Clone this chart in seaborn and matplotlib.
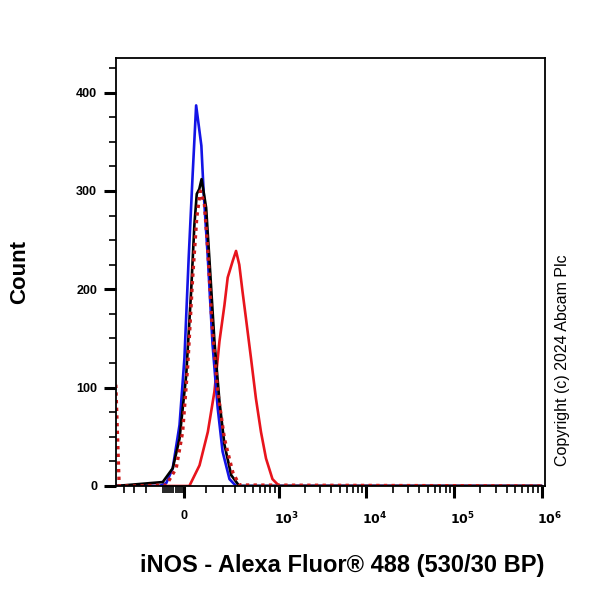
import numpy as np
import pandas as pd
import matplotlib
matplotlib.use('Agg')
import matplotlib.pyplot as plt
import matplotlib.transforms as mtransforms
import seaborn as sns

# fluorescence (biex axis units) and counts
blue_x = [-500, -119, -84, -53, -22, 0, 19, 37, 53, 78, 89, 111, 137, 168, 200, 251, 307, 1e6]
blue_y = [0, 0, 3, 18, 62, 130, 232, 317, 387, 346, 300, 232, 144, 79, 35, 7, 0, 0]

black_x = [-500, -102, -53, -22, 8, 30, 45, 56, 68, 79, 102, 119, 148, 179, 213, 265, 338, 1e6]
black_y = [0, 4, 18, 48, 113, 198, 266, 297, 302, 312, 283, 232, 147, 86, 42, 11, 0, 0]

dot_x = [-500, -455, -300, -84, -37, -8, 15, 37, 56, 73, 93, 111, 134, 168, 213, 278, 338, 1e6]
dot_y = [103, 0, 0, 1, 18, 55, 123, 212, 273, 300, 287, 239, 164, 96, 48, 14, 1, 0]

red_x = [-500, 22, 69, 111, 148, 179, 213, 237, 251, 278, 307, 338, 371, 409, 472, 541, 621, 712, 847, 1013, 1e6]
red_y = [0, 0, 21, 55, 96, 147, 184, 212, 218, 229, 239, 225, 198, 171, 130, 89, 55, 28, 7, 0, 0]

xmajor = [0, 1e3, 1e4, 1e5, 1e6]
xmajor_labels = ['0', r'$\mathbf{10^{3}}$', r'$\mathbf{10^{4}}$', r'$\mathbf{10^{5}}$', r'$\mathbf{10^{6}}$']

sns.set_style('ticks')
plt.rcParams['font.family'] = ['Liberation Sans', 'DejaVu Sans']
for k in ['text.color', 'axes.labelcolor', 'xtick.color', 'ytick.color', 'axes.edgecolor']:
    plt.rcParams[k] = 'black'

fig = plt.figure(figsize=(6, 6), dpi=100)
ax = fig.add_axes([0.193, 0.19, 0.715, 0.713])

sns.lineplot(x=red_x, y=red_y, color='#e8141c', lw=1.9, ax=ax)
sns.lineplot(x=blue_x, y=blue_y, color='#1414e6', lw=1.9, ax=ax)
sns.lineplot(x=black_x, y=black_y, color='black', lw=1.9, ax=ax)
sns.lineplot(x=dot_x, y=dot_y, color='#cc1a1a', lw=2.4, ax=ax)
ax.lines[-1].set_linestyle((0, (1, 1.3)))

ax.set_xscale('asinh', linear_width=170)
ax.set_xlim(-500, 1.08e6)
ax.set_ylim(0, 435)

# minor ticks of the biex axis
neg_minor = [-400, -300, -200, -100] + list(range(-90, 0, 10))
pos_minor = []
for k in range(2, 6):
    pos_minor += [m * 10 ** k for m in range(1, 10) if m * 10 ** k not in xmajor]
ax.set_xticks(xmajor)
ax.set_xticklabels(xmajor_labels)
ax.set_xticks(neg_minor + pos_minor, minor=True)
ax.set_xticklabels([], minor=True)

ax.set_yticks([0, 100, 200, 300, 400])
ax.set_yticks(np.arange(0, 436, 25), minor=True)

for s in ax.spines.values():
    s.set_visible(True)
    s.set_color('black')
    s.set_linewidth(1.3)
ax.tick_params(which='major', direction='out', length=8.5, width=2.2, labelsize=9, pad=5)
ax.tick_params(axis='x', which='major', pad=9)
ax.tick_params(which='minor', direction='out', length=5, width=1.2)
for lab in ax.get_xticklabels() + ax.get_yticklabels():
    lab.set_fontweight('bold')
# exponent labels sit a little right of their ticks
shift = mtransforms.ScaledTranslation(8 / 100, 0, fig.dpi_scale_trans)
for lab in ax.get_xticklabels()[1:]:
    lab.set_transform(lab.get_transform() + shift)

ax.set_xlabel('iNOS - Alexa Fluor® 488 (530/30 BP)', fontsize=17, fontweight='bold')
ax.xaxis.set_label_coords(0.527, -0.16)
ax.set_ylabel('Count', fontsize=16, fontweight='bold')
ax.yaxis.set_label_coords(-0.2, 0.5)

fig.text(0.938, 0.40, 'Copyright (c) 2024 Abcam Plc', rotation=90, fontsize=11.5,
         ha='center', va='center')

fig.savefig('out.png', dpi=100, facecolor='white')
